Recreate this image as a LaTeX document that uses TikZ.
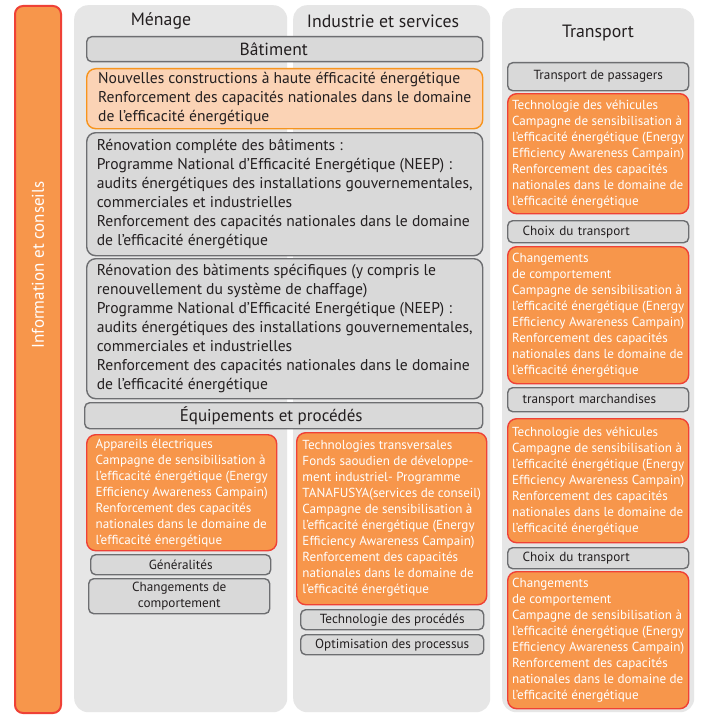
\documentclass[tikz,border=0pt]{standalone}
\usepackage{fontspec}
\setmainfont{PT Sans}
\definecolor{panel}{HTML}{E6E6E6}
\definecolor{tab}{HTML}{D9D9D9}
\definecolor{edge}{HTML}{6D6E71}
\definecolor{ink}{HTML}{231F20}
\definecolor{hotfill}{HTML}{F7964B}
\definecolor{hotedge}{HTML}{EF4136}
\definecolor{peachfill}{HTML}{FBD3B5}
\definecolor{peachedge}{HTML}{F7941D}
\tikzset{
	pane/.style={fill=panel,rounded corners=14pt,anchor=north west,inner sep=0pt},
	tabbox/.style={draw=edge,fill=tab,line width=1.4pt,rounded corners=5pt,text=ink,
		anchor=north west,inner ysep=0pt,font=\fontsize{13.2}{15}\selectfont},
	graybox/.style={tabbox,rounded corners=9pt,align=left,font=\fontsize{15.6}{19}\selectfont},
	peachbox/.style={graybox,draw=peachedge,fill=peachfill},
	hotbox/.style={draw=hotedge,fill=hotfill,line width=1.4pt,rounded corners=9pt,text=white,
		anchor=north west,inner ysep=0pt,align=left,font=\fontsize{13.1}{16}\selectfont},
	colhead/.style={text=ink,font=\fontsize{17.8}{20}\selectfont},
}
\begin{document}
\begin{tikzpicture}[x=1pt,y=-1pt]
		\useasboundingbox[fill=white] (0,0) rectangle (701,717);
		\node[draw=hotedge,fill=hotfill,line width=2pt,rounded corners=8pt,anchor=north west,
			inner sep=0pt,minimum width=46,minimum height=707] (bar) at (14,5) {};
		\node[rotate=90,text=white,font=\fontsize{17}{20}\selectfont] (info) at (38,265) {Information et conseils};
		\foreach \x/\y/\w/\h/\n in {74/5/213/707/men,293/5/197/707/ind,502/8/192/704/tra}
		{
			\node[pane,minimum width=\w,minimum height=\h] (\n) at (\x,\y) {};
		}
		\node[colhead] (menhead) at (161,21) {Ménage};
		\node[colhead] (indhead) at (383,21) {Industrie et services};
		\node[colhead] (trahead) at (598,33) {Transport};

		\node[tabbox,minimum width=396,minimum height=25,font=\fontsize{17.5}{19}\selectfont] (bat) at (86,36) {Bâtiment\hspace*{22pt}};
		\node[peachbox,minimum width=396,minimum height=60] (newc) at (86,68)
		{Nouvelles constructions à haute éfficacité énergétique\\
			Renforcement des capacités nationales dans le domaine\\
			de l’efficacité énergétique};
		\node[graybox,minimum width=396,minimum height=123] (renov) at (86,132)
		{Rénovation compléte des bâtiments :\\
			Programme National d’Efficacité Energétique (NEEP) :\\
			audits énergétiques des installations gouvernementales,\\
			commerciales et industrielles\\
			Renforcement des capacités nationales dans le domaine\\
			de l’efficacité énergétique};
		\node[graybox,minimum width=396,minimum height=140] (spec) at (86,258)
		{Rénovation des bàtiments spécifiques (y compris le\\
			renouvellement du système de chaffage)\\
			Programme National d’Efficacité Energétique (NEEP) :\\
			audits énergétiques des installations gouvernementales,\\
			commerciales et industrielles\\
			Renforcement des capacités nationales dans le domaine\\
			de l’efficacité énergétique};
		\node[tabbox,minimum width=398,minimum height=26,font=\fontsize{17}{19}\selectfont] (equip) at (84,402) {Équipements et procédés\hspace*{25pt}};

		\node[hotbox,minimum width=190,minimum height=116] (appar) at (86,434)
		{Appareils électriques\\
			Campagne de sensibilisation à\\
			l’efficacité énergétique (Energy\\
			Efficiency Awareness Campain)\\
			Renforcement des capacités\\
			nationales dans le domaine de\\
			l’efficacité énergétique};
		\node[tabbox,minimum width=180,minimum height=20] (gener) at (90,554) {Généralités};
		\node[tabbox,minimum width=181,minimum height=35,align=center,font=\fontsize{13.2}{16}\selectfont] (chgt) at (88,578)
		{Changements de\\comportement};

		\node[hotbox,minimum width=190,minimum height=172] (transv) at (296,432)
		{Technologies transversales\\
			Fonds saoudien de développe-\\
			ment industriel- Programme\\
			TANAFUSYA(services de conseil)\\
			Campagne de sensibilisation à\\
			l’efficacité énergétique (Energy\\
			Efficiency Awareness Campain)\\
			Renforcement des capacités\\
			nationales dans le domaine de\\
			l’efficacité énergétique};
		\node[tabbox,minimum width=183,minimum height=20] (techp) at (300,609) {Technologie des procédés};
		\node[tabbox,minimum width=183,minimum height=20] (optim) at (300,634) {Optimisation des processus};

		\node[tabbox,minimum width=181,minimum height=28] (passag) at (507,62) {Transport de passagers};
		\node[hotbox,minimum width=181,minimum height=120] (veh1) at (507,93)
		{Technologie des véhicules\\
			Campagne de sensibilisation à\\
			l’efficacité énergétique (Energy\\
			Efficiency Awareness Campain)\\
			Renforcement des capacités\\
			nationales dans le domaine de\\
			l’efficacité énergétique};
		\node[tabbox,text width=151,inner xsep=15,align=left,minimum height=22] (choix1) at (507,220) {Choix du transport};
		\node[hotbox,minimum width=181,minimum height=137] (comp1) at (507,246)
		{Changements\\
			de comportement\\
			Campagne de sensibilisation à\\
			l’efficacité énergétique (Energy\\
			Efficiency Awareness Campain)\\
			Renforcement des capacités\\
			nationales dans le domaine de\\
			l’efficacité énergétique};
		\node[tabbox,text width=151,inner xsep=15,align=left,minimum height=24] (march) at (507,387) {transport marchandises};
		\node[hotbox,minimum width=181,minimum height=124] (veh2) at (507,418)
		{Technologie des véhicules\\
			Campagne de sensibilisation à\\
			l’efficacité énergétique (Energy\\
			Efficiency Awareness Campain)\\
			Renforcement des capacités\\
			nationales dans le domaine de\\
			l’efficacité énergétique};
		\node[tabbox,text width=151,inner xsep=15,align=left,minimum height=21] (choix2) at (507,547) {Choix du transport};
		\node[hotbox,minimum width=181,minimum height=137] (comp2) at (507,571)
		{Changements\\
			de comportement\\
			Campagne de sensibilisation à\\
			l’efficacité énergétique (Energy\\
			Efficiency Awareness Campain)\\
			Renforcement des capacités\\
			nationales dans le domaine de\\
			l’efficacité énergétique};
	\end{tikzpicture}
\end{document}
